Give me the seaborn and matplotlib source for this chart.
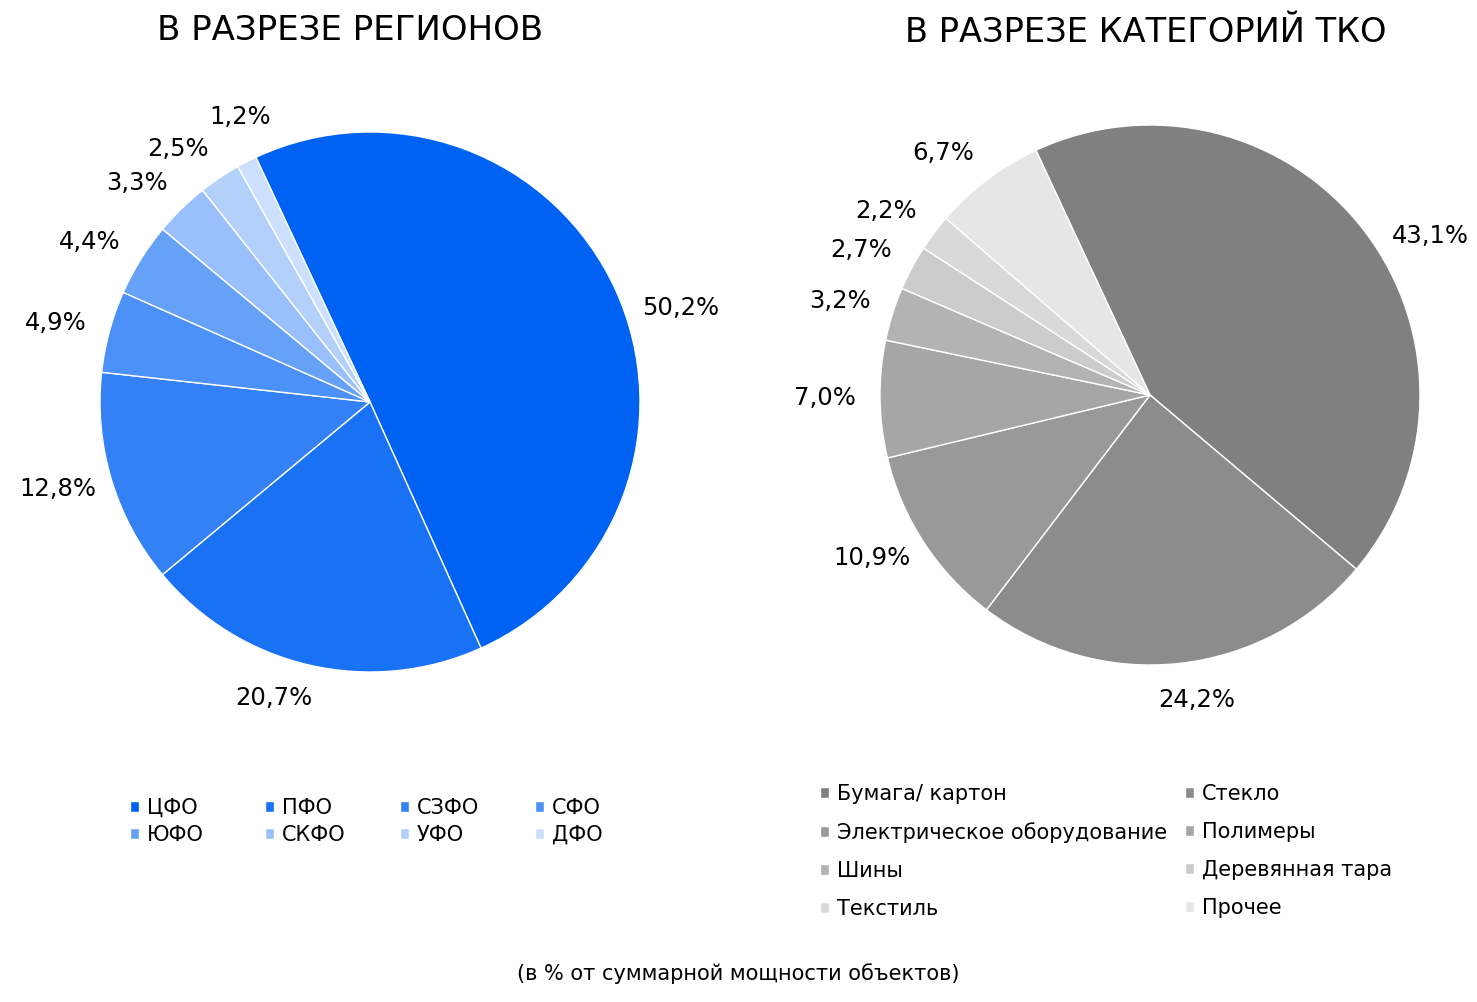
import numpy as np
import matplotlib
matplotlib.use("Agg")
import matplotlib.pyplot as plt
import seaborn as sns

# данные
regions = ["ЦФО", "ПФО", "СЗФО", "СФО", "ЮФО", "СКФО", "УФО", "ДФО"]
region_share = [50.2, 20.7, 12.8, 4.9, 4.4, 3.3, 2.5, 1.2]

categories = ["Бумага/ картон", "Стекло", "Электрическое оборудование", "Полимеры",
              "Шины", "Деревянная тара", "Текстиль", "Прочее"]
category_share = [43.1, 24.2, 10.9, 7.0, 3.2, 2.7, 2.2, 6.7]

titles = ["В РАЗРЕЗЕ РЕГИОНОВ", "В РАЗРЕЗЕ КАТЕГОРИЙ ТКО"]
note = "(в % от суммарной мощности объектов)"

# небольшие сдвиги подписей (в градусах), как разнёс их Excel
region_nudge = [-7.8, -5.0, -1.1, 1.0, 2.1, 2.6, 3.4, -2.6]
category_nudge = [-7.9, 2.4, -2.8, -0.4, 0.6, 1.5, 2.0, 3.5]

sns.set_theme(style="white")
plt.rcParams['font.family'] = ['DejaVu Sans']
plt.rcParams['text.color'] = 'black'

tint_idx = [0, 1, 2, 3, 4, 6, 7, 8]
blues = [sns.blend_palette(["#0062F3", "white"], 11)[i] for i in tint_idx]
greys = [sns.blend_palette(["#808080", "white"], 11)[i] for i in tint_idx]

W, H = 1477, 1002
fig = plt.figure(figsize=(W / 100, H / 100), dpi=100)


def pie_axes(cx, cy, half=300):
    return fig.add_axes([(cx - half) / W, (H - cy - half) / H, 2 * half / W, 2 * half / H])


def draw_pie(ax, values, colors, nudge):
    wedges, _ = ax.pie(values, colors=colors, startangle=115, counterclock=False, radius=1,
                       wedgeprops=dict(edgecolor="white", linewidth=1))
    lim = 300 / 270
    ax.set_xlim(-lim, lim)
    ax.set_ylim(-lim, lim)
    ax.set_aspect("equal")
    ax.axis("off")
    for w, v, d in zip(wedges, values, nudge):
        a = np.deg2rad((w.theta1 + w.theta2) / 2 + d)
        ca, sa = np.cos(a), np.sin(a)
        dist = 1.13 + 0.074 * abs(ca)  # подписи сбоку дальше, сверху/снизу ближе
        ax.text(dist * ca, dist * sa, f"{v:.1f}%".replace(".", ","),
                ha="center", va="center", fontsize=17.5, color="black")
    return wedges


ax1 = pie_axes(370, 402)
w1 = draw_pie(ax1, region_share, blues, region_nudge)
ax2 = pie_axes(1150, 395)
w2 = draw_pie(ax2, category_share, greys, category_nudge)

fig.text(350 / W, 1 - 30 / H, titles[0], ha="center", va="center", fontsize=24.5)
fig.text(1146 / W, 1 - 32 / H, titles[1], ha="center", va="center", fontsize=24.2)

# легенды: по колонкам, как в Excel
leg_kw = dict(frameon=False, loc="upper left", fontsize=15, handlelength=0.45, handleheight=0.45,
              handletextpad=0.35, borderpad=0, borderaxespad=0, labelcolor="black")
for j, x0 in enumerate([130, 265, 400, 535]):
    fig.legend([w1[j], w1[j + 4]], [regions[j], regions[j + 4]], bbox_to_anchor=(x0 / W, 1 - 798 / H),
               labelspacing=0.32, **leg_kw)
for j, x0 in enumerate([820, 1185]):
    idx = [j, j + 2, j + 4, j + 6]
    fig.legend([w2[i] for i in idx], [categories[i] for i in idx], bbox_to_anchor=(x0 / W, 1 - 784 / H),
               labelspacing=0.86, **leg_kw)

fig.text(738 / W, 1 - 974 / H, note, ha="center", va="center", fontsize=15)

fig.savefig("out.png", dpi=100, facecolor="white")
